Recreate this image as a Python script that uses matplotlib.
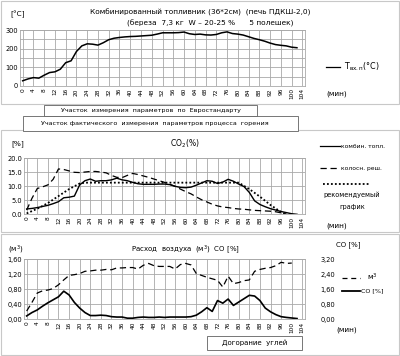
import numpy as np
import matplotlib
matplotlib.use("Agg")
import matplotlib.pyplot as plt
from matplotlib.patches import Rectangle

plt.rcParams['font.family'] = ['DejaVu Sans']

# minutes, step 2
t_min = np.arange(0, 104, 2)
temp = [28, 38, 45, 42, 58, 72, 76, 90, 125, 135, 185, 215, 226, 224, 219, 232,
        248, 256, 260, 263, 265, 266, 268, 270, 272, 278, 285, 285, 285, 286, 289,
        280, 276, 278, 274, 273, 276, 285, 290, 281, 278, 273, 264, 255, 248, 240,
        230, 222, 218, 215, 208, 205]

co2_comb = [1.9, 2.1, 2.4, 2.8, 3.2, 3.8, 4.5, 5.9, 6.1, 6.5, 10.5, 12.0, 12.6,
            11.8, 12.0, 12.0, 12.3, 12.9, 12.3, 12.0, 11.4, 10.9, 10.7, 10.7, 10.7,
            10.8, 10.8, 10.6, 10.0, 9.6, 9.5, 9.7, 10.4, 11.2, 12.0, 11.8, 11.0,
            11.5, 12.5, 11.8, 10.8, 9.9, 7.8, 4.8, 3.5, 2.7, 2.0, 1.5, 1.0, 0.6,
            0.2, 0.0]
co2_grate = [1.5, 5.7, 9.2, 9.8, 10.5, 12.5, 16.2, 16.0, 15.5, 15.0, 14.9, 15.1,
             15.3, 15.3, 15.1, 14.8, 13.9, 13.2, 13.1, 13.9, 14.6, 14.2, 13.7, 13.2,
             12.6, 12.0, 11.4, 10.7, 10.0, 9.0, 8.1, 7.3, 6.2, 5.2, 4.4, 3.6, 3.0,
             2.6, 2.4, 2.1, 1.9, 1.8, 1.6, 1.4, 1.3, 1.2, 1.1, 0.9, 0.5, 0.1]
rec_x = [0, 4, 8, 12, 16, 20, 22, 80, 84, 88, 92, 96, 98]
rec_y = [0.3, 2.0, 4.0, 6.5, 9.0, 11.0, 11.3, 11.3, 9.0, 6.3, 3.3, 0.8, 0.0]

air = [0.22, 0.45, 0.70, 0.76, 0.78, 0.82, 0.92, 1.05, 1.17, 1.19, 1.22, 1.28,
       1.29, 1.31, 1.31, 1.33, 1.32, 1.37, 1.37, 1.38, 1.38, 1.34, 1.44, 1.49,
       1.43, 1.41, 1.41, 1.41, 1.34, 1.46, 1.49, 1.45, 1.22, 1.17, 1.12, 1.08,
       1.04, 0.86, 1.15, 0.95, 0.98, 1.03, 1.05, 1.28, 1.33, 1.36, 1.38, 1.43,
       1.52, 1.49, 1.50]
co = [0.18, 0.36, 0.50, 0.70, 0.88, 1.04, 1.20, 1.50, 1.30, 0.90, 0.60, 0.36,
      0.20, 0.20, 0.22, 0.20, 0.14, 0.12, 0.12, 0.06, 0.06, 0.10, 0.12, 0.10,
      0.10, 0.12, 0.10, 0.12, 0.12, 0.12, 0.12, 0.14, 0.22, 0.40, 0.62, 0.42,
      1.00, 0.86, 1.08, 0.74, 0.92, 1.10, 1.28, 1.24, 1.00, 0.60, 0.40, 0.25,
      0.14, 0.10, 0.07, 0.04]

xticks = np.arange(0, 108, 4)

W, H = 400, 356
fig = plt.figure(figsize=(4.0, 3.56), dpi=100)


def px_axes(left, top, right, bottom):
    return fig.add_axes([left / W, 1 - bottom / H, (right - left) / W, (bottom - top) / H])


def ftext(x, y, s, **kw):
    kw.setdefault('fontsize', 5)
    kw.setdefault('va', 'center')
    fig.text(x / W, 1 - y / H, s, **kw)


def frame(left, top, right, bottom, ec='#c8c8c8', lw=0.8):
    fig.add_artist(Rectangle((left / W, 1 - bottom / H), (right - left) / W, (bottom - top) / H,
                             transform=fig.transFigure, fc='white', ec=ec, lw=lw, zorder=0))


def hline(x0, x1, y, **kw):
    fig.add_artist(plt.Line2D([x0 / W, x1 / W], [1 - y / H] * 2, color='black', **kw))


def style(ax, ymax, ystep, ygrid, fmt):
    ax.set_xlim(-1, 105)
    ax.set_ylim(0, ymax)
    ax.set_xticks(xticks)
    ax.set_xticklabels([str(v) for v in xticks], rotation=90, fontsize=4.2)
    ax.set_yticks(np.arange(0, ymax + ystep / 2, ystep))
    ax.set_yticklabels([fmt.format(v) for v in np.arange(0, ymax + ystep / 2, ystep)], fontsize=4.8)
    ax.set_yticks(np.arange(0, ymax + ygrid / 2, ygrid), minor=True)
    ax.grid(True, which='major', axis='x', color='#a8a8a8', lw=0.6)
    ax.grid(True, which='both', axis='y', color='#a8a8a8', lw=0.6)
    ax.tick_params(which='both', length=0, pad=1.5)
    ax.patch.set_alpha(0)
    for s in ax.spines.values():
        s.set_color('#a8a8a8')
        s.set_linewidth(0.6)


# panel frames
frame(1, 1, 399, 104)
frame(1, 130, 399, 232)
frame(1, 234, 399, 355)

# --- panel 1: temperature
ax1 = px_axes(20, 30, 305, 86)
style(ax1, 300, 100, 50, '{:.0f}')
ax1.plot(t_min, temp, color='black', lw=1.1)
ftext(200, 12, 'Комбинированный топливник (36*2см)  (печь ПДКШ-2,0)', ha='center', fontsize=5.3)
ftext(210, 23, '(береза  7,3 кг  W – 20-25 %      5 полешек)', ha='center', fontsize=5.3)
ftext(10, 14, '[°С]', fontsize=5.3)
ftext(337, 94, '(мин)', ha='center', fontsize=5.3)
hline(326, 340, 67, lw=0.9)
ftext(344, 67, 'Т$_{\\mathregular{вх.п}}$(°С)', fontsize=5.8)

# text boxes under panel 1
frame(44, 105, 257, 116, ec='#606060', lw=0.6)
ftext(151, 110.5, 'Участок  измерения  параметров  по  Евростандарту', ha='center', fontsize=4.6)
frame(23, 116, 298, 131, ec='#606060', lw=0.6)
ftext(155, 123.5, 'Участок фактического  измерения  параметров процесса  горения', ha='center',
      fontsize=4.6)

# --- panel 2: CO2
ax2 = px_axes(24, 158.3, 305, 214.3)
style(ax2, 20, 5, 5, '{:.1f}')
ax2.plot(t_min, co2_comb, color='black', lw=1.0)
ax2.plot(t_min[:len(co2_grate)], co2_grate, color='black', lw=0.9, ls=(0, (5, 3)))
ax2.plot(rec_x, rec_y, color='black', lw=1.3, ls=(0, (1, 1.2)))
ftext(185, 144, 'CO$_2$(%)', ha='center', fontsize=5.5)
ftext(11, 144, '[%]', fontsize=5.3)
hline(320, 340, 146, lw=0.9)
ftext(341, 146, 'комбин. топл.', fontsize=4.3)
hline(320, 340, 168, lw=0.9, ls=(0, (5, 3)))
ftext(341, 168, 'колосн. реш.', fontsize=4.3)
hline(323, 370, 184, lw=1.3, ls=(0, (1, 1.2)))
ftext(352, 195, 'рекомендуемый', ha='center', fontsize=4.7)
ftext(352, 207, 'график', ha='center', fontsize=4.7)
ftext(337, 226, '(мин)', ha='center', fontsize=5.3)

# --- panel 3: air flow and CO
ax3 = px_axes(24, 259.3, 305, 319.3)
style(ax3, 1.6, 0.4, 0.4, '{:.2f}')
ax3.set_yticklabels([f'{v:.2f}'.replace('.', ',') for v in np.arange(0, 1.61, 0.4)], fontsize=4.8)
ax3.plot(t_min[:len(air)], air, color='black', lw=0.9, ls=(0, (5, 3)))
ax3b = ax3.twinx()
ax3b.set_xlim(-1, 105)
ax3b.set_ylim(0, 3.2)
ax3b.set_yticks(np.arange(0, 3.3, 0.8))
ax3b.set_yticklabels([f'{v:.2f}'.replace('.', ',') for v in np.arange(0, 3.3, 0.8)], fontsize=4.8)
ax3b.tick_params(length=0, pad=11)
for s in ax3b.spines.values():
    s.set_visible(False)
ax3b.plot(t_min, co, color='black', lw=1.2)
ftext(185, 250, 'Расход  воздуха  (м$^3$)  СО [%]', ha='center', fontsize=5.0)
ftext(8, 250, '(м$^3$)', fontsize=5.0)
ftext(336, 245, 'СО [%]', fontsize=5.0)
hline(342, 360, 278, lw=0.9, ls=(0, (4, 3)))
ftext(367, 277, 'м$^3$', fontsize=5.3)
hline(342, 360, 291, lw=1.3)
ftext(361, 291, 'СО [%]', fontsize=4.6)
ftext(347, 330, '(мин)', ha='center', fontsize=5.3)
frame(207, 336, 302, 350, ec='#606060', lw=0.6)
ftext(254.5, 343, 'Догорание  углей', ha='center', fontsize=5.0)

fig.savefig('out.png', dpi=100, facecolor='white')
